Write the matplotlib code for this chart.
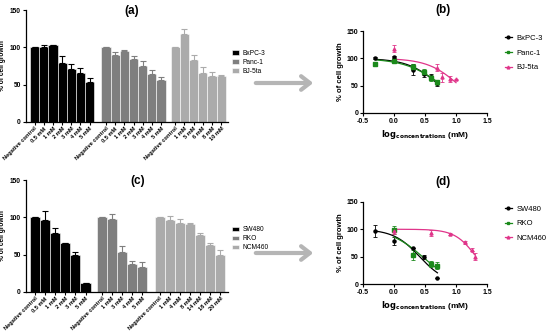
import numpy as np
import matplotlib
matplotlib.use('Agg')
import matplotlib.pyplot as plt

plt.rcParams['font.family'] = ['Liberation Sans', 'DejaVu Sans']

# ---- panel (a) bars: % of cell growth
a_labels = [
    ['Negative control', '0.5 mM', '1 mM', '2 mM', '3 mM', '4 mM', '5 mM'],
    ['Negative control', '0.5 mM', '1 mM', '2 mM', '3 mM', '4 mM', '5 mM'],
    ['Negative control', '1 mM', '5 mM', '6 mM', '8 mM', '10 mM'],
]
a_names = ['BxPC-3', 'Panc-1', 'BJ-5ta']
bxpc3 = [100, 101, 102.5, 79, 71, 66, 54]
bxpc3_err = [0, 2, 1, 10, 6, 6, 5]
panc1 = [100, 90, 94.5, 84, 75, 64, 56]
panc1_err = [0, 4, 2, 5, 6, 6, 4]
bj5ta = [100, 118, 83, 65, 62, 62]
bj5ta_err = [0, 6, 7, 8, 5, 1]

# ---- panel (c) bars
c_labels = [
    ['Negative control', '0.5 mM', '1 mM', '2 mM', '3 mM', '5 mM'],
    ['Negative control', '1 mM', '3 mM', '4 mM', '5 mM'],
    ['Negative control', '1 mM', '4 mM', '8 mM', '14 mM', '18 mM', '20 mM'],
]
c_names = ['SW480', 'RKO', 'NCM460']
sw480 = [100, 97, 79, 66, 50, 12]
sw480_err = [0, 11, 7, 0, 4, 0]
rko = [100, 98, 53, 37, 34]
rko_err = [0, 7, 9, 5, 6]
ncm460 = [100, 97, 93, 91, 76, 63, 50]
ncm460_err = [0, 5, 5, 2, 3, 2, 6]

# ---- panel (b) dose response (log concentration, mM)
b_x_bxpc3 = [-0.3, 0.0, 0.3, 0.48, 0.6, 0.7]
b_x_panc1 = [-0.3, 0.0, 0.3, 0.48, 0.6, 0.7]
b_x_bj5ta = [0.0, 0.7, 0.78, 0.9, 1.0]

# ---- panel (d) dose response
d_x_sw480 = [-0.3, 0.0, 0.3, 0.48, 0.7]
d_x_rko = [0.0, 0.3, 0.6, 0.7]
d_x_ncm460 = [0.0, 0.6, 0.9, 1.146, 1.255, 1.301]

bar_colors = ['#000000', '#7f7f7f', '#ababab']
line_colors = ['#000000', '#1b8a1b', '#e0358a']
line_markers = ['o', 's', '^']


def fit_curve(x, y):
    # normalized response fit: top 100, bottom 0, variable slope
    x = np.asarray(x, float)
    y = np.asarray(y, float)
    lic = np.linspace(-0.5, 2.5, 601)[:, None, None]
    hill = np.linspace(0.3, 8, 386)[None, :, None]
    pred = 100 / (1 + 10 ** ((x[None, None, :] - lic) * hill))
    sse = ((pred - y) ** 2).sum(axis=2)
    i, j = np.unravel_index(sse.argmin(), sse.shape)
    return lic[i, 0, 0], hill[0, j, 0]


def bar_panel(ax, labels, values, errs, names, gaps, xlim, leg_y):
    pos = 0.0
    ticks, ticklabels = [], []
    for k in range(3):
        n = len(values[k])
        xs = pos + np.arange(n)
        ax.bar(xs, values[k], width=1.0, color=bar_colors[k], edgecolor='white',
               linewidth=0.4, label=names[k])
        ax.errorbar(xs, values[k], yerr=[np.zeros(n), errs[k]], fmt='none',
                    ecolor=bar_colors[k], elinewidth=0.8, capsize=2, capthick=0.8)
        ticks += list(xs)
        ticklabels += labels[k]
        if k < 2:
            pos = xs[-1] + 1 + gaps[k]
    ax.set_xticks(ticks)
    ax.set_xticklabels(ticklabels, rotation=45, ha='right', rotation_mode='anchor',
                       fontsize=4.1, fontweight='bold')
    ax.set_xlim(*xlim)
    ax.set_ylim(0, 150)
    ax.set_yticks([0, 50, 100, 150])
    ax.tick_params(axis='y', labelsize=4.8, length=2.5, width=0.8, pad=1)
    ax.tick_params(axis='x', length=2, width=0.8, pad=1)
    for t in ax.get_yticklabels():
        t.set_fontweight('bold')
    ax.set_ylabel('% of cell growth', fontsize=4.8, fontweight='bold', labelpad=3)
    for s in ['top', 'right']:
        ax.spines[s].set_visible(False)
    for s in ['left', 'bottom']:
        ax.spines[s].set_linewidth(0.9)
    ax.legend(loc='upper left', bbox_to_anchor=(0.99, leg_y), frameon=False,
              fontsize=4.8, handlelength=1.0, handleheight=0.7,
              handletextpad=0.6, labelspacing=0.3)


def line_panel(ax, xs, ys, errs, names):
    for k in range(3):
        x = np.asarray(xs[k])
        y = np.asarray(ys[k])
        lic, h = fit_curve(x, y)
        xx = np.linspace(x.min(), x.max(), 200)
        yy = 100 / (1 + 10 ** ((xx - lic) * h))
        ax.plot(xx, yy, color=line_colors[k], lw=0.9)
        ax.errorbar(x, y, yerr=errs[k], fmt=line_markers[k], ms=2.2,
                    color=line_colors[k], elinewidth=0.6, capsize=1.2,
                    capthick=0.6)
        ax.plot([], [], color=line_colors[k], marker=line_markers[k], ms=2.0,
                lw=0.9, label=names[k])
    ax.set_xlim(-0.5, 1.5)
    ax.set_ylim(0, 150)
    ax.set_xticks([-0.5, 0.0, 0.5, 1.0, 1.5])
    ax.set_xticklabels(['-0.5', '0.0', '0.5', '1.0', '1.5'])
    ax.set_yticks([0, 50, 100, 150])
    ax.tick_params(labelsize=5, length=2.5, width=0.8, pad=1)
    for t in ax.get_xticklabels() + ax.get_yticklabels():
        t.set_fontweight('bold')
    ax.set_ylabel('% of cell growth', fontsize=5.5, fontweight='bold', labelpad=2)
    ax.set_xlabel(r'$\mathbf{log}_{\mathbf{concentrations}}$ (mM)', fontsize=6,
                  fontweight='bold', labelpad=2)
    for s in ['top', 'right']:
        ax.spines[s].set_visible(False)
    for s in ['left', 'bottom']:
        ax.spines[s].set_linewidth(0.9)
    ax.legend(loc='upper left', bbox_to_anchor=(1.1, 1.02), frameon=False,
              fontsize=5.5, handlelength=0.9, handletextpad=0.6, labelspacing=0.95,
              borderpad=0.2)


fig = plt.figure(figsize=(5.5, 3.34), dpi=100)

ax_a = fig.add_axes([0.047, 0.635, 0.368, 0.335])
bar_panel(ax_a, a_labels, [bxpc3, panc1, bj5ta], [bxpc3_err, panc1_err, bj5ta_err],
          a_names, gaps=[0.78, 0.55], xlim=(-0.95, 21.1), leg_y=0.7)

ax_c = fig.add_axes([0.047, 0.126, 0.368, 0.335])
bar_panel(ax_c, c_labels, [sw480, rko, ncm460], [sw480_err, rko_err, ncm460_err],
          c_names, gaps=[0.6, 0.72], xlim=(-0.9, 19.1), leg_y=0.64)

ax_b = fig.add_axes([0.66, 0.662, 0.2255, 0.245])
line_panel(ax_b, [b_x_bxpc3, b_x_panc1, b_x_bj5ta],
           [bxpc3[1:], panc1[1:], bj5ta[1:]],
           [bxpc3_err[1:], panc1_err[1:], bj5ta_err[1:]], a_names)

ax_d = fig.add_axes([0.66, 0.149, 0.2255, 0.247])
line_panel(ax_d, [d_x_sw480, d_x_rko, d_x_ncm460],
           [sw480[1:], rko[1:], ncm460[1:]],
           [sw480_err[1:], rko_err[1:], ncm460_err[1:]], c_names)

# panel letters
for lab, (px, py) in {'(a)': (132, 11), '(c)': (138, 181),
                      '(b)': (443, 10), '(d)': (443, 182)}.items():
    fig.text(px / 550, 1 - py / 334, lab, fontsize=8.5, fontweight='bold',
             ha='center', va='center')

# grey arrows between panels
for py in (83, 253):
    fig.add_artist(matplotlib.patches.FancyArrowPatch(
        (253 / 550, 1 - py / 334), (316 / 550, 1 - py / 334),
        transform=fig.transFigure, arrowstyle='->,head_width=0.35,head_length=0.45',
        mutation_scale=14, lw=3.0, color='#b5b5b5'))

fig.savefig('out.png', dpi=100)
